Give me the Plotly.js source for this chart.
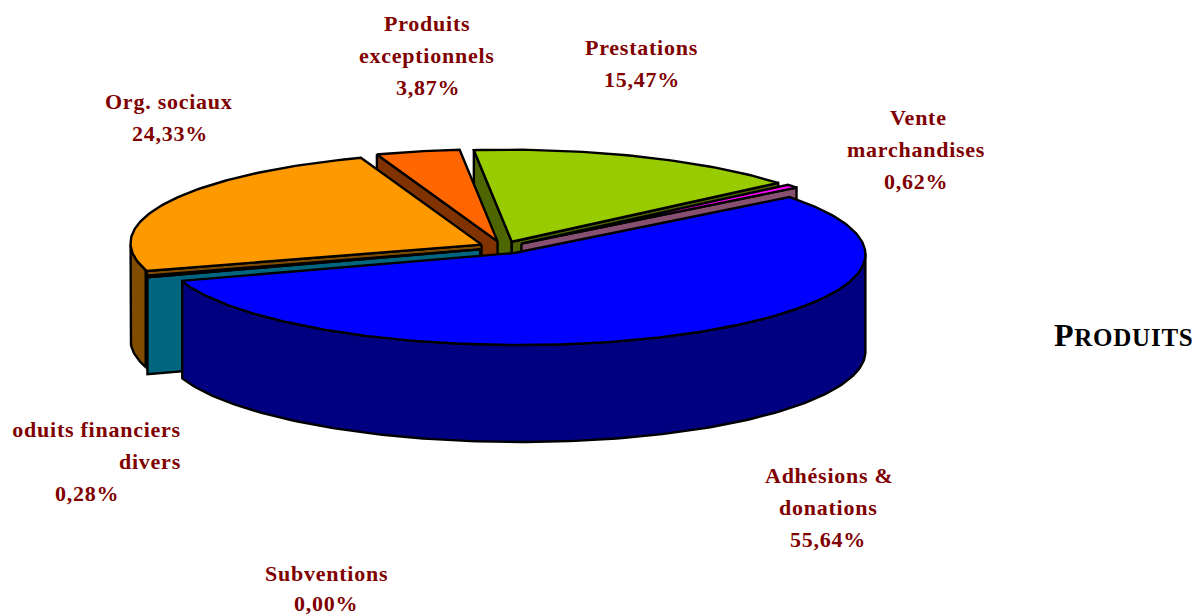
<!DOCTYPE html>
<html><head><meta charset="utf-8">
<script src="https://cdn.plot.ly/plotly-3.0.1.min.js"></script>
<style>html,body{margin:0;padding:0;background:#fff;overflow:hidden}
#chart{width:1195px;height:616px;position:relative}
#edge{position:absolute;left:0;top:0;width:12px;height:616px;background:#fff;z-index:5}
.annotation-text{letter-spacing:.75px}</style>
</head><body><div id="chart"></div><div id="edge"></div>
<script>
const categories = ["Adhésions & donations","Subventions","Produits financiers divers","Org. sociaux","Produits exceptionnels","Prestations","Vente marchandises"];
const shares = [55.64,0.00,0.28,24.33,3.87,15.47,0.62];
const shareLabels = ["55,64%","0,00%","0,28%","24,33%","3,87%","15,47%","0,62%"];
const topColors = ["#0000FF","#3366FF","#00CCFF","#FF9900","#FF6600","#99CC00","#FF00FF"];
const wallColors = ["#000080","#1A3380","#006680","#804D00","#803300","#4D6600","#875070"];
const drawOrder = [5,6,4,3,2,1,0];

const CX=503, CY=247.5, RX=351, RY=92, DEPTH=97, EXPLODE=0.068, START=37.5, SKEW=0.06;
const total = shares.reduce((a,b)=>a+b,0);
const traces=[];
let a=START; const slices=shares.map(v=>{const s=a; a-=v/total*360; return {s,e:a};});
const sk=(x,y)=>[x+SKEW*(y-CY),y];
const rim=(c,t)=>{const r=t*Math.PI/180; return sk(c[0]+RX*Math.cos(r), c[1]-RY*Math.sin(r));};
function poly(pts,fill){
  const x=pts.map(p=>p[0]).concat(pts[0][0]), y=pts.map(p=>p[1]).concat(pts[0][1]);
  traces.push({type:'scatter',mode:'lines',x,y,fill:'toself',fillcolor:fill,line:{color:'#000',width:2.4},hoverinfo:'skip',showlegend:false});
}
const down=p=>[p[0],p[1]+DEPTH];
const faces=t=>Math.sin(t*Math.PI/180)<0;
drawOrder.forEach(i=>{
  if(shares[i]<=0) return;
  const {s,e}=slices[i], m=(s+e)/2*Math.PI/180;
  const c0=[CX+EXPLODE*RX*Math.cos(m), CY-EXPLODE*RY*Math.sin(m)];
  const c=sk(c0[0],c0[1]);
  // radial walls that face the viewer
  if(faces(s+90)){const p=rim(c0,s); poly([c,p,down(p),down(c)],wallColors[i]);}
  if(faces(e-90)){const p=rim(c0,e); poly([c,p,down(p),down(c)],wallColors[i]);}
  // outer wall : front-facing part of the rim
  const arc=[];
  for(let k=0;k<=180;k++){const t=-k;
    const n=[t,t-360,t+360].find(q=>q<=s&&q>=e);
    if(n!==undefined) arc.push(rim(c0,n));}
  if(arc.length>1) poly(arc.concat(arc.slice().reverse().map(down)),wallColors[i]);
  // top
  const top=[c]; const steps=Math.max(2,Math.ceil(s-e));
  for(let k=0;k<=steps;k++) top.push(rim(c0,s+(e-s)*k/steps));
  poly(top,topColors[i]);
});

const RED='#800000';
const lines=[
 ["Produits",427,23,'center'],["exceptionnels",427,55,'center'],[shareLabels[4],428,87,'center'],
 ["Prestations",641,47,'center'],[shareLabels[5],642,79,'center'],
 ["Vente",918,117,'center'],["marchandises",916,149,'center'],[shareLabels[6],916,181,'center'],
 ["Org. sociaux",169,101,'center'],[shareLabels[3],170,133,'center'],
 ["Adhésions &",829,475,'center'],["donations",828,507,'center'],[shareLabels[0],828,539,'center'],
 ["Subventions",326,573,'center'],[shareLabels[1],326,603.5,'center'],
 ["Produits financiers",183,429,'right'],["divers",183,461,'right'],[shareLabels[2],87,493,'center']
];
const annotations=lines.map(l=>({x:l[1],y:l[2],xref:'x',yref:'y',text:l[0],showarrow:false,xanchor:l[3],yanchor:'middle',
  font:{family:'"Liberation Serif",serif',size:22,color:RED,weight:'bold'}}));
annotations.push({x:1052,y:335,xref:'x',yref:'y',xanchor:'left',yanchor:'middle',showarrow:false,
  text:'<b>P<span style="font-size:25px">RODUITS</span></b>',font:{family:'"Liberation Serif",serif',size:32,color:'#000'}});

Plotly.newPlot('chart',traces,{
  width:1195,height:616,margin:{l:0,r:0,t:0,b:0},paper_bgcolor:'#fff',plot_bgcolor:'#fff',showlegend:false,
  xaxis:{range:[0,1195],visible:false,fixedrange:true},
  yaxis:{range:[616,0],visible:false,fixedrange:true},
  annotations
},{displayModeBar:false,staticPlot:true});
</script></body></html>
